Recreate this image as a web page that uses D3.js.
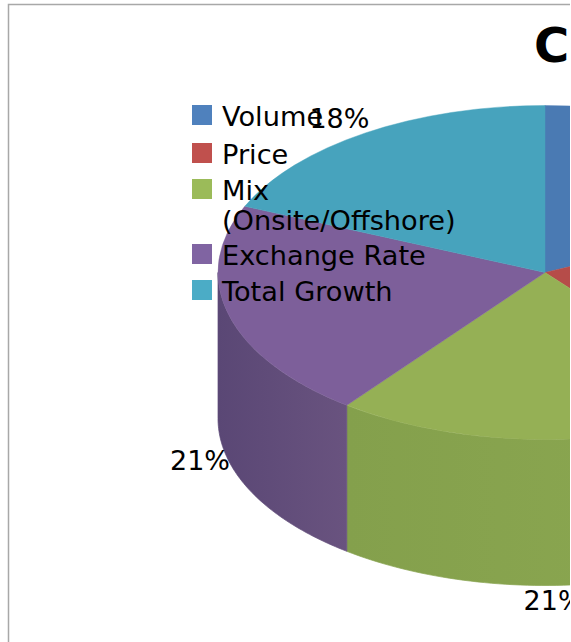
<!DOCTYPE html>
<html><head><meta charset="utf-8">
<script src="https://cdn.jsdelivr.net/npm/d3@7"></script>
<style>html,body{margin:0;padding:0;background:#fff;overflow:hidden}svg{display:block}text{font-family:"DejaVu Sans",sans-serif;fill:#000}</style>
</head><body><svg id="c" width="571" height="642"></svg>
<script>
const categories = ["Volume","Price","Mix (Onsite/Offshore)","Exchange Rate","Total Growth"];
const legendLines = [["Volume"],["Price"],["Mix","(Onsite/Offshore)"],["Exchange Rate"],["Total Growth"]];
const values = [18, 21, 21, 21, 18.4];
const pctLabels = ["", "", "21%", "21%", "18%"];
const legendColors = ["#4f81bd","#c0504d","#9bbb59","#8064a2","#4bacc6"];
const topColors = ["#4a7ab3","#b64c49","#95b055","#7d5f9a","#47a3bd"];
const sideDark = ["#44709f","#a04441","#84a04c","#5a4775","#3c899f"];
const sideLight = ["#44709f","#a04441","#8ca851","#69537f","#4192a9"];
const titleText = "C";

const W=570,H=642,cx=545,cy=272.5,rx=327,ry=167,depth=146;
const svg=d3.select("#c");
const defs=svg.append("defs");
defs.append("clipPath").attr("id","cl").append("rect").attr("width",W).attr("height",H);
const g=svg.append("g").attr("clip-path","url(#cl)");
g.append("rect").attr("x",8.5).attr("y",4.5).attr("width",700).attr("height",800).attr("fill","#fff").attr("stroke","#a8a8a8").attr("stroke-width",1.5);

const arcs=d3.pie().sort(null).value(d=>d)(values);
const px=a=>cx+rx*Math.sin(a), py=a=>cy-ry*Math.cos(a);

// side wall: one path per slice, shaded left to right, front half of the ellipse only
const frontA=Math.PI/2, frontB=3*Math.PI/2;
arcs.forEach((d,i)=>{
  const a0=Math.max(d.startAngle,frontA), a1=Math.min(d.endAngle,frontB);
  if(a1<=a0) return;
  const x0=px(a1), x1=px(a0);
  const grad=defs.append("linearGradient").attr("id","side"+i).attr("gradientUnits","userSpaceOnUse")
    .attr("x1",x0).attr("x2",x1).attr("y1",0).attr("y2",0);
  grad.append("stop").attr("offset",0).attr("stop-color",sideDark[i]);
  grad.append("stop").attr("offset",1).attr("stop-color",sideLight[i]);
  const pts=d3.range(0,61).map(t=>a0+(a1-a0)*t/60);
  g.append("path")
    .attr("d",d3.area().x(a=>px(a)).y0(a=>py(a)).y1(a=>py(a)+depth)(pts))
    .attr("fill",`url(#side${i})`)
    .attr("stroke",`url(#side${i})`).attr("stroke-width",0.7);
});

// top face: circular d3.arc squashed to an ellipse
const arc=d3.arc().innerRadius(0).outerRadius(rx);
const topG=g.append("g").attr("transform",`translate(${cx},${cy}) scale(1,${ry/rx})`);
topG.selectAll("path").data(arcs).join("path").attr("d",arc)
  .attr("fill",(d,i)=>topColors[i]).attr("stroke",(d,i)=>topColors[i]).attr("stroke-width",0.6);

// percent labels
const f=1.1;
const nudge=[[0,0],[0,0],[4,-2],[3,-5],[-8,0]];
arcs.forEach((d,i)=>{
  if(!pctLabels[i]) return;
  const m=(d.startAngle+d.endAngle)/2;
  const x=cx+rx*f*Math.sin(m)+nudge[i][0], y=cy-ry*f*Math.cos(m)+(Math.cos(m)<0?depth:0)+nudge[i][1];
  g.append("text").attr("x",x).attr("y",y).attr("text-anchor","middle").attr("dominant-baseline","central")
    .attr("font-size",27).text(pctLabels[i]);
});

// legend
const rowY=d3.scaleOrdinal().domain(categories).range([115,153,189,254,290]);
categories.forEach((c,i)=>{
  const y=rowY(c);
  g.append("rect").attr("x",192).attr("y",y-10).attr("width",20).attr("height",20).attr("fill",legendColors[i]);
  legendLines[i].forEach((l,j)=>{
    g.append("text").attr("x",222).attr("y",y+11+j*30).attr("font-size",27.2).text(l);
  });
});

g.append("text").attr("x",534).attr("y",62).attr("font-size",48).attr("font-weight","bold").text(titleText);
</script></body></html>
